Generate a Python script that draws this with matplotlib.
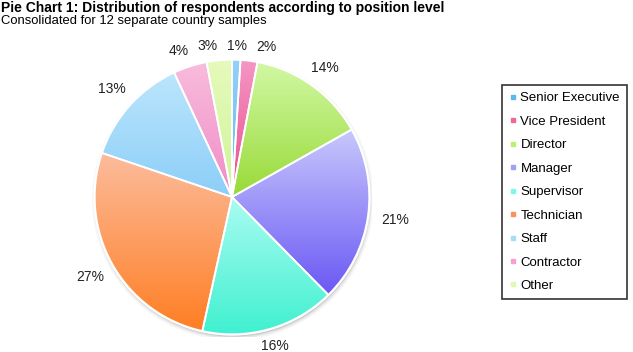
"""
Pie chart of respondents by position level, with per-wedge vertical gradients.
"""

import numpy as np
import matplotlib

matplotlib.use("Agg")
import matplotlib.pyplot as plt
from matplotlib.colors import to_rgb
from matplotlib.lines import Line2D
from matplotlib.patches import Circle

plt.rcParams["font.family"] = ["Liberation Sans", "DejaVu Sans"]

# Data

CATEGORIES = [
    "Senior Executive", "Vice President", "Director", "Manager", "Supervisor",
    "Technician", "Staff", "Contractor", "Other",
]
SHARES = [1, 2, 14, 21, 16, 27, 13, 4, 3]

# Colours (top of wedge -> bottom of wedge) and legend swatches

TOP_COLORS = ["#94d2f8", "#f596c4", "#d2f8a4", "#c8c8fc", "#aafcf2",
              "#fcbc9c", "#bce6fc", "#f8bcdc", "#e6fabc"]
BOTTOM_COLORS = ["#5cb6f0", "#e84c8c", "#98da38", "#6a58f4", "#40f0d0",
                 "#ff7e24", "#8ccef8", "#f08cc6", "#d0f498"]
LEGEND_COLORS = ["#5cb8f0", "#f06898", "#b8f070", "#a0a0f8", "#80f8e8",
                 "#f89060", "#a8dcf8", "#f8a0d0", "#e0f8b0"]

W, H, DPI = 633, 352, 100
CX, CY, HALF = 232, 197, 140  # pie axes centre and half-size in px
MIN_GAP = 11.0  # minimum angular gap between labels (deg)


def spread_angles(angles, min_gap, n_iter=200):
    """Push label angles apart so neighbours are at least min_gap degrees apart."""
    a = np.array(angles, dtype=float)
    order = np.argsort(a)
    for _ in range(n_iter):
        moved = False
        for i, j in zip(order[:-1], order[1:]):
            gap = a[j] - a[i]
            if gap < min_gap - 1e-6:
                push = (min_gap - gap) / 2
                a[i] -= push
                a[j] += push
                moved = True
        if not moved:
            break
    return a


fig = plt.figure(figsize=(W / DPI, H / DPI), dpi=DPI)
ax = fig.add_axes([(CX - HALF) / W, (H - CY - HALF) / H, 2 * HALF / W, 2 * HALF / H])

# soft shadow under the pie
for r, a in [(1.025, 0.06), (1.012, 0.10), (1.0, 0.18)]:
    ax.add_patch(Circle((0.006, -0.018), r, facecolor="#555555", edgecolor="none",
                        alpha=a, zorder=0))
ax.add_patch(Circle((0, 0), 1.01, facecolor="white", edgecolor="none", zorder=0.5))

wedges, _ = ax.pie(SHARES, startangle=90, counterclock=False, radius=1.0,
                   wedgeprops=dict(facecolor="none", edgecolor="white", linewidth=1.3))

mid_angles = []
for wedge, c_top, c_bot in zip(wedges, TOP_COLORS, BOTTOM_COLORS):
    wedge.set_zorder(3)
    bb = wedge.get_path().get_extents()
    t = np.linspace(0, 1, 128)[:, None]
    img = (1 - t) * np.array(to_rgb(c_top)) + t * np.array(to_rgb(c_bot))
    im = ax.imshow(img[:, None, :], extent=(bb.x0, bb.x1, bb.y0, bb.y1), origin="upper",
                   aspect="auto", interpolation="bilinear", zorder=2)
    im.set_clip_path(wedge)
    mid = (wedge.theta1 + wedge.theta2) / 2
    mid_angles.append((mid + 90) % 360 - 90)  # keep the top cluster contiguous

# percentage labels just outside the rim, spread so they don't collide
for share, ang in zip(SHARES, spread_angles(mid_angles, MIN_GAP)):
    theta = np.deg2rad(ang)
    d = 1.10 + 0.10 * abs(np.cos(theta))
    ax.text(d * np.cos(theta), d * np.sin(theta), f"{share}%", ha="center", va="center",
            fontsize=10, color="#222222")

ax.set_xlim(-1.02, 1.02)
ax.set_ylim(-1.02, 1.02)
ax.set_aspect("equal")
ax.axis("off")

fig.text(1 / W, 1 - 1 / H, "Pie Chart 1: Distribution of respondents according to position level",
         fontsize=10, fontweight="bold", ha="left", va="top")
fig.text(1 / W, 1 - 15 / H, "Consolidated for 12 separate country samples",
         fontsize=9.4, ha="left", va="top")

handles = [Line2D([], [], marker="s", linestyle="", markersize=3.5, color=c, markeredgecolor=c)
           for c in LEGEND_COLORS]
leg = fig.legend(handles, CATEGORIES, loc="upper left", bbox_to_anchor=(502 / W, 1 - 85 / H),
                 borderaxespad=0, fontsize=9.5, frameon=True, fancybox=False, handlelength=0.5,
                 handletextpad=0.35, labelspacing=0.85, borderpad=0.55)
leg.get_frame().set_edgecolor("black")
leg.get_frame().set_linewidth(1.2)

fig.savefig("out.png", dpi=DPI)
